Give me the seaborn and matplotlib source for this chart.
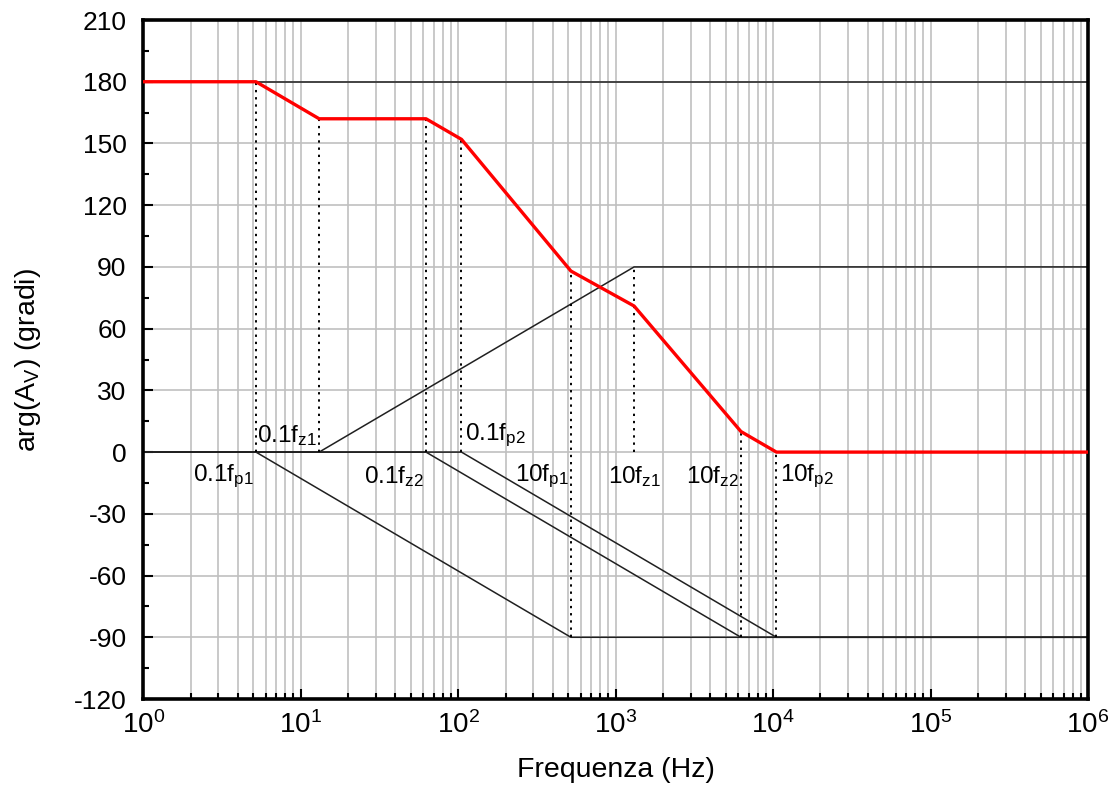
import numpy as np
import pandas as pd
import matplotlib
matplotlib.use("Agg")
import matplotlib.pyplot as plt
from matplotlib.ticker import LogLocator, NullFormatter, MultipleLocator, FixedLocator
from matplotlib.transforms import offset_copy
import seaborn as sns

# ---- data ----
# breakpoint frequencies (Hz): 0.1fp1, 0.1fz1, 0.1fz2, 0.1fp2, 10fp1, 10fz1, 10fz2, 10fp2
f_break = [5.2, 13.1, 62.5, 105, 520, 1310, 6250, 10500]

# total phase (red)
tot_x = [1, 5.2, 13.1, 62.5, 105, 520, 1310, 6250, 10500, 1e6]
tot_y = [180, 180, 162, 162, 152, 88, 71, 10, 0, 0]

# asymptotic components (black)
k_x = [1, 1e6]
k_y = [180, 180]
p1_x = [1, 5.2, 520, 1e6]
p1_y = [0, 0, -90, -90]
z1_x = [1, 13.1, 1310, 1e6]
z1_y = [0, 0, 90, 90]
z2_x = [1, 62.5, 6250, 1e6]
z2_y = [0, 0, -90, -90]
p2_x = [1, 105, 10500, 1e6]
p2_y = [0, 0, -90, -90]

# dotted guide lines
dot_x = [5.2, 13.1, 62.5, 105, 520, 1310, 6250, 10500]
dot_ymin = [0, 0, 0, 0, -90, 0, -90, -90]
dot_ymax = [180, 162, 162, 152, 88, 90, 10, 0]

# labels
lbl_text = ["0.1f$_{p1}$", "0.1f$_{z1}$", "0.1f$_{z2}$", "0.1f$_{p2}$",
            "10f$_{p1}$", "10f$_{z1}$", "10f$_{z2}$", "10f$_{p2}$"]
lbl_y = [-12, 8, -12, 8, -12, -12, -12, -12]
lbl_ha = ["right", "right", "right", "left", "right", "center", "right", "left"]

x_ticks = [1, 10, 100, 1000, 10000, 100000, 1000000]
x_ticklabels = ["$10^{0}$", "$10^{1}$", "$10^{2}$", "$10^{3}$", "$10^{4}$", "$10^{5}$", "$10^{6}$"]
y_ticks = list(range(-120, 211, 30))

# ---- styling ----
sns.set_theme(style="white")
plt.rcParams['font.family'] = ['Liberation Sans', 'DejaVu Sans']
plt.rcParams['mathtext.fontset'] = 'custom'
plt.rcParams['mathtext.rm'] = 'Liberation Sans'
plt.rcParams['mathtext.it'] = 'Liberation Sans'
plt.rcParams['mathtext.bf'] = 'Liberation Sans:bold'
plt.rcParams['mathtext.default'] = 'regular'
plt.rcParams['axes.unicode_minus'] = False
plt.rcParams['text.color'] = 'black'
plt.rcParams['axes.labelcolor'] = 'black'
plt.rcParams['xtick.color'] = 'black'
plt.rcParams['ytick.color'] = 'black'

FS_TICK = 19
FS_XTICK = 20
FS_LBL = 17.5
FS_AX = 20.5

fig = plt.figure(figsize=(11.19, 7.91), dpi=100)
ax = fig.add_axes([0.128, 0.1163, 0.9723 - 0.128, 0.9747 - 0.1163])

ax.set_xscale("log")
ax.set_xlim(1, 1e6)
ax.set_ylim(-120, 210)

# ticks & grid
ax.set_axisbelow(True)
ax.set_xticks(x_ticks)
ax.set_xticklabels(x_ticklabels)
minor_x = [m * 10 ** d for d in range(6) for m in range(2, 10)]
ax.xaxis.set_minor_locator(FixedLocator(minor_x))
ax.xaxis.set_minor_formatter(NullFormatter())
ax.set_yticks(y_ticks)
ax.set_yticklabels([str(v) for v in y_ticks])
ax.yaxis.set_minor_locator(MultipleLocator(15))
ax.yaxis.set_minor_formatter(NullFormatter())
ax.set_xlim(1, 1e6)
ax.set_ylim(-120, 210)
ax.grid(True, which="both", axis="x", color="#c0c0c0", lw=1.2)
ax.grid(True, which="major", axis="y", color="#c0c0c0", lw=1.2)

# component lines
for xs, ys in [(k_x, k_y), (p1_x, p1_y), (z1_x, z1_y), (z2_x, z2_y), (p2_x, p2_y)]:
    sns.lineplot(x=xs, y=ys, ax=ax, color="#202020", lw=1.1,
                 estimator=None, sort=False, legend=False)

# dotted verticals
ax.vlines(dot_x, dot_ymin, dot_ymax, colors="black", linestyles=(0, (1.2, 2.5)), lw=1.4, zorder=3)

# total phase
sns.lineplot(x=tot_x, y=tot_y, ax=ax, color="#ff0000", lw=2.4,
             estimator=None, sort=False, legend=False, zorder=4)

# labels
for fx, t, yy, ha in zip(f_break, lbl_text, lbl_y, lbl_ha):
    dx = {"right": -2, "left": 4, "center": 0}[ha]
    tr = offset_copy(ax.transData, fig=fig, x=dx, y=0, units="dots")
    ax.text(fx, yy, t, ha=ha, va="center", fontsize=FS_LBL, color="black",
            transform=tr, zorder=5)

# axes frame & ticks
for s in ax.spines.values():
    s.set_visible(True)
    s.set_color("black")
    s.set_linewidth(2.6)
ax.tick_params(axis="both", which="major", direction="in", length=7, width=1.5,
               color="black", labelcolor="black", bottom=True, left=True, top=False, right=False)
ax.tick_params(axis="both", which="minor", direction="in", length=4, width=1.5,
               color="black", bottom=True, left=True, top=False, right=False)
ax.tick_params(axis="y", which="major", pad=12, labelsize=FS_TICK)
ax.tick_params(axis="x", which="major", pad=9, labelsize=FS_XTICK)

ax.set_xlabel("Frequenza (Hz)", fontsize=FS_AX, color="black")
ax.set_ylabel("arg(A$_V$) (gradi)", fontsize=FS_AX, color="black")
ax.xaxis.label.set_va("center")
ax.yaxis.label.set_va("center")
ax.xaxis.set_label_coords(0.5, -0.1046)
ax.yaxis.set_label_coords(-0.1223, 0.5)

fig.savefig("out.png", dpi=100)
